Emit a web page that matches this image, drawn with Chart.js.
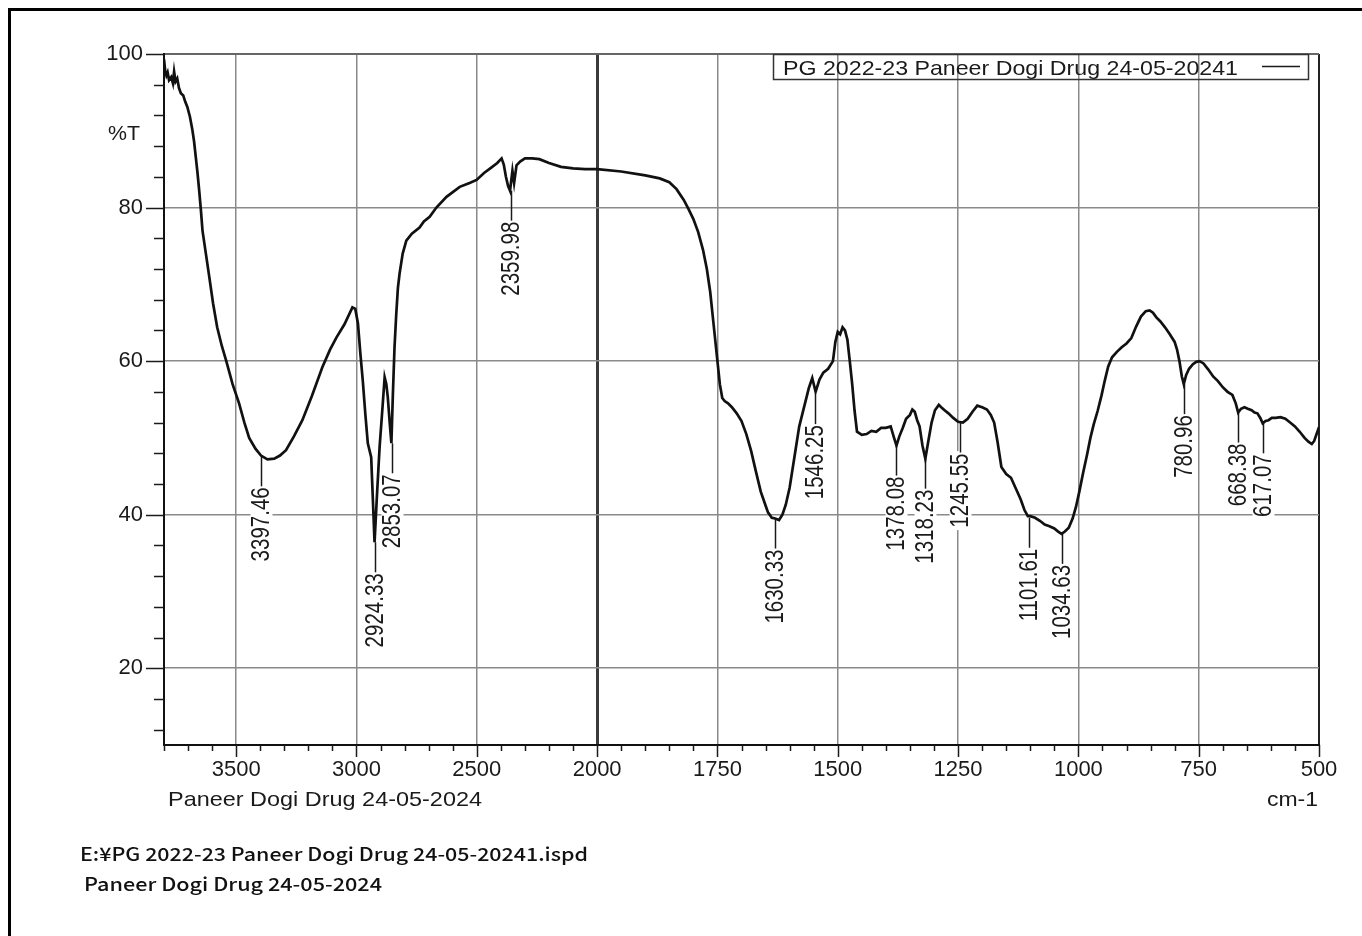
<!DOCTYPE html>
<html lang="en">
<head>
<meta charset="UTF-8">
<title>IR spectrum - Paneer Dogi Drug 24-05-2024</title>
<script src="https://cdn.jsdelivr.net/npm/chart.js"></script>
<style>
  body { margin: 0; background: #fff; }
  canvas { display: block; }
</style>
</head>
<body>
<canvas id="irChart" width="1362" height="936"></canvas>
<script>
// spectrum: wavenumber (cm-1) and %T
const wavenumbers = [
  3800, 3795, 3790, 3785, 3779, 3770, 3763, 3758, 3752, 3745, 3738, 3730, 3720, 3712, 3703, 3692,
  3682, 3675, 3668, 3661, 3654, 3647, 3640, 3626, 3612, 3596, 3579, 3560, 3542, 3515, 3488, 3466,
  3446, 3420, 3397, 3370, 3342, 3318, 3293, 3260, 3225, 3185, 3142, 3110, 3083, 3050, 3017, 3005,
  2994, 2984, 2974, 2963, 2953, 2939, 2932, 2925, 2915, 2904, 2893, 2883, 2876, 2870, 2862, 2855,
  2849, 2842, 2835, 2828, 2821, 2808, 2793, 2770, 2738, 2720, 2696, 2668, 2626, 2571, 2530, 2501,
  2470, 2440, 2415, 2397, 2388, 2379, 2370, 2362, 2352, 2345, 2335, 2320, 2300, 2270, 2240, 2200,
  2150, 2100, 2050, 2000, 1950, 1900, 1870, 1850, 1835, 1820, 1810, 1800, 1790, 1780, 1772, 1765,
  1760, 1755, 1750, 1745, 1740, 1735, 1728, 1720, 1710, 1700, 1690, 1680, 1670, 1660, 1650, 1645,
  1637, 1630, 1622, 1615, 1608, 1600, 1590, 1580, 1570, 1560, 1553, 1546, 1538, 1530, 1520, 1510,
  1505, 1500, 1495, 1490, 1485, 1480, 1475, 1470, 1465, 1460, 1450, 1440, 1430, 1420, 1410, 1400,
  1390, 1383, 1378, 1372, 1365, 1358, 1350, 1345, 1340, 1335, 1330, 1324, 1318, 1312, 1305, 1298,
  1290, 1285, 1278, 1270, 1260, 1250, 1240, 1230, 1220, 1210, 1200, 1190, 1182, 1175, 1168, 1160,
  1150, 1140, 1130, 1120, 1112, 1105, 1100, 1090, 1080, 1070, 1060, 1050, 1042, 1035, 1028, 1020,
  1012, 1005, 998, 990, 982, 975, 968, 960, 952, 945, 938, 930, 920, 910, 900, 890,
  880, 870, 860, 852, 845, 838, 830, 820, 810, 800, 795, 790, 785, 781, 776, 770,
  762, 755, 748, 740, 730, 720, 710, 700, 690, 680, 673, 668, 662, 655, 648, 640,
  634, 628, 622, 617, 611, 605, 598, 590, 580, 570, 560, 550, 540, 530, 522, 515,
  510, 505, 500
];
const transmittance = [
  99.3, 97.8, 97.2, 97.6, 96.6, 97.0, 96.2, 97.7, 96.4, 96.8, 95.6, 94.9, 94.6, 93.8, 93.1, 91.8,
  90.1, 88.6, 86.6, 84.6, 82.3, 79.8, 77.0, 74.0, 71.0, 67.5, 64.4, 62.0, 60.1, 57.0, 54.5, 52.0,
  50.0, 48.6, 47.7, 47.2, 47.3, 47.7, 48.4, 50.2, 52.3, 55.5, 59.2, 61.5, 63.1, 64.8, 67.0, 66.8,
  64.9, 61.0, 57.5, 53.0, 49.3, 47.5, 42.0, 36.4, 42.5, 48.8, 53.5, 57.9, 57.0, 55.3, 52.0, 49.3,
  55.5, 61.8, 66.0, 69.5, 71.4, 74.0, 75.7, 76.6, 77.4, 78.2, 78.8, 80.0, 81.4, 82.7, 83.2, 83.6,
  84.5, 85.2, 85.8, 86.4, 85.6, 84.0, 82.8, 82.2, 84.8, 83.2, 85.5, 86.0, 86.4, 86.4, 86.3, 85.8,
  85.3, 85.1, 85.0, 85.0, 84.7, 84.2, 83.8, 83.3, 82.4, 81.0, 79.8, 78.5, 76.8, 74.5, 72.0, 69.0,
  66.0, 63.0, 60.0, 57.0, 55.2, 54.8, 54.5, 54.0, 53.2, 52.2, 50.5, 48.3, 45.6, 43.0, 41.2, 40.3,
  39.6, 39.5, 39.3, 40.0, 41.3, 43.5, 47.5, 51.5, 54.0, 56.5, 57.8, 56.0, 57.6, 58.5, 59.0, 60.0,
  62.5, 63.8, 63.5, 64.4, 64.0, 62.8, 60.0, 57.0, 53.5, 50.8, 50.4, 50.5, 50.9, 50.8, 51.3, 51.3,
  51.5, 50.0, 49.0, 50.2, 51.3, 52.5, 53.0, 53.7, 53.4, 52.3, 51.5, 49.0, 47.3, 49.5, 52.0, 53.6,
  54.3, 54.0, 53.6, 53.2, 52.6, 52.1, 52.0, 52.5, 53.4, 54.2, 54.0, 53.7, 53.0, 52.0, 49.5, 46.2,
  45.3, 44.8, 43.4, 42.0, 40.6, 39.8, 39.8, 39.6, 39.2, 38.7, 38.5, 38.2, 37.8, 37.5, 37.8, 38.3,
  39.5, 41.0, 43.0, 45.5, 47.8, 50.0, 51.8, 53.5, 55.5, 57.5, 59.3, 60.5, 61.2, 61.8, 62.3, 63.0,
  64.5, 65.8, 66.5, 66.6, 66.3, 65.7, 65.2, 64.4, 63.5, 62.5, 61.5, 60.0, 58.0, 57.0, 58.2, 59.0,
  59.6, 59.9, 60.0, 59.7, 58.9, 58.0, 57.4, 56.6, 56.0, 55.6, 54.5, 53.3, 53.8, 54.0, 53.8, 53.6,
  53.3, 53.2, 52.6, 51.9, 52.2, 52.3, 52.6, 52.6, 52.7, 52.5, 52.0, 51.5, 50.8, 50.0, 49.5, 49.2,
  49.6, 50.5, 51.4
];

// peak picks printed under the trace
const peakLabels = ['3397.46', '2924.33', '2853.07', '2359.98', '1630.33', '1546.25', '1378.08',
  '1318.23', '1245.55', '1101.61', '1034.63', '780.96', '668.38', '617.07'];
const peakWavenumbers = [3397.46, 2924.33, 2853.07, 2359.98, 1630.33, 1546.25, 1378.08,
  1318.23, 1245.55, 1101.61, 1034.63, 780.96, 668.38, 617.07];
const peakTransmittance = [47.6, 36.4, 49.3, 82.2, 39.5, 55.7, 49.0, 47.3, 52.0, 39.6, 37.5, 57.0, 53.3, 51.9];

const xTickLabels = [500, 750, 1000, 1250, 1500, 1750, 2000, 2500, 3000, 3500];
const yTickLabels = [20, 40, 60, 80, 100];

// the printout halves the scale above 2000 cm-1, so the x axis runs on a folded coordinate
function toAxis(w) { return w <= 2000 ? w : 2000 + (w - 2000) / 2; }
function fromAxis(p) { return p <= 2000 ? p : 2000 + (p - 2000) * 2; }

const FONT = '"Liberation Sans", Arial, sans-serif';

// draw text squeezed/stretched to a given width (the scan is not square)
function fitText(ctx, text, x, y, font, width, align) {
  ctx.save();
  ctx.font = font;
  const sx = width / ctx.measureText(text).width;
  ctx.translate(x, y);
  ctx.scale(sx, 1);
  ctx.textAlign = align || 'left';
  ctx.textBaseline = 'alphabetic';
  ctx.fillText(text, 0, 0);
  ctx.restore();
}

function line(ctx, x1, y1, x2, y2) {
  ctx.beginPath();
  ctx.moveTo(x1, y1);
  ctx.lineTo(x2, y2);
  ctx.stroke();
}

const decor = {
  id: 'decor',
  beforeDatasetsDraw(chart) {
    // peak labels, white boxes knock out the grid
    const ctx = chart.ctx, xs = chart.scales.x, ys = chart.scales.y;
    ctx.save();
    ctx.font = '25px ' + FONT;
    peakWavenumbers.forEach((w, i) => {
      const px = Math.round(xs.getPixelForValue(toAxis(w))) + 0.5;
      const py = ys.getPixelForValue(peakTransmittance[i]);
      const end = py + 30;
      ctx.save();
      ctx.translate(px, end + 1);
      ctx.rotate(-Math.PI / 2);
      ctx.scale(0.82, 1);
      const tw = ctx.measureText(peakLabels[i]).width;
      ctx.fillStyle = '#fff';
      ctx.fillRect(-tw - 3, -11, tw + 6, 22);
      ctx.fillStyle = '#1a1a1a';
      ctx.textAlign = 'right';
      ctx.textBaseline = 'middle';
      ctx.fillText(peakLabels[i], 0, 1);
      ctx.restore();
      ctx.strokeStyle = '#1a1a1a';
      ctx.lineWidth = 1.5;
      line(ctx, px, py, px, end);
    });
    ctx.restore();
  },
  afterDraw(chart) {
    const ctx = chart.ctx, xs = chart.scales.x, ys = chart.scales.y, a = chart.chartArea;
    ctx.save();
    ctx.strokeStyle = '#1a1a1a';
    ctx.lineWidth = 1.5;
    // y ticks every 4 %T
    for (let v = 12; v <= 100; v += 4) {
      const py = Math.round(ys.getPixelForValue(v)) + 0.5;
      line(ctx, a.left - (v % 20 === 0 ? 18 : 10), py, a.left, py);
    }
    // x ticks every 50 on the folded axis
    for (let p = 500; p <= 2900; p += 50) {
      const px = Math.round(xs.getPixelForValue(p)) + 0.5;
      const major = p % 250 === 0 && p <= 2750;
      line(ctx, px, a.bottom, px, a.bottom + (major ? 12 : 6));
    }

    ctx.fillStyle = '#1a1a1a';
    fitText(ctx, '%T', 108, 140, '21px ' + FONT, 32);
    fitText(ctx, 'Paneer Dogi Drug 24-05-2024', 168, 806, '21px ' + FONT, 314);
    fitText(ctx, 'cm-1', 1318, 806, '21px ' + FONT, 51, 'right');

    // legend box
    ctx.strokeStyle = '#333';
    ctx.lineWidth = 1.5;
    ctx.strokeRect(773.5, 54.5, 535, 25);
    fitText(ctx, 'PG 2022-23 Paneer Dogi Drug 24-05-20241', 783, 75, '21px ' + FONT, 455);
    ctx.strokeStyle = '#1a1a1a';
    line(ctx, 1262, 66.5, 1300, 66.5);

    // file info under the chart
    ctx.fillStyle = '#111';
    fitText(ctx, 'E:\u00a5PG 2022-23 Paneer Dogi Drug 24-05-20241.ispd', 80, 861, '500 18px "Noto Sans CJK JP", sans-serif', 508);
    fitText(ctx, 'Paneer Dogi Drug 24-05-2024', 84, 891, '500 18px "Noto Sans CJK JP", sans-serif', 298);

    // page frame
    ctx.strokeStyle = '#000';
    ctx.lineWidth = 3;
    line(ctx, 8, 9.5, 1362, 9.5);
    line(ctx, 9.5, 8, 9.5, 936);
    ctx.restore();
  }
};

new Chart(document.getElementById('irChart'), {
  type: 'line',
  data: {
    datasets: [{
      data: wavenumbers.map((w, i) => ({ x: toAxis(w), y: transmittance[i] })),
      borderColor: '#111',
      borderWidth: 2.7,
      pointRadius: 0,
      tension: 0,
      fill: false
    }]
  },
  options: {
    responsive: false,
    animation: false,
    devicePixelRatio: 1,
    layout: { padding: { left: 0, top: 54, right: 43, bottom: 0 } },
    plugins: { legend: { display: false }, tooltip: { enabled: false } },
    scales: {
      x: {
        type: 'linear',
        reverse: true,
        min: 500,
        max: 2900,
        afterBuildTicks: s => { s.ticks = xTickLabels.map(w => ({ value: toAxis(w) })); },
        afterFit: s => { s.height = 191; },
        ticks: {
          callback: v => String(fromAxis(v)),
          font: { family: FONT, size: 22 },
          color: '#1a1a1a',
          padding: 12,
          maxRotation: 0,
          autoSkip: false
        },
        grid: {
          drawTicks: false,
          color: c => c.tick.value === 2000 ? '#3a3a3a' : (c.tick.value === 500 ? '#222' : '#8a8a8a'),
          lineWidth: c => c.tick.value === 2000 ? 3 : (c.tick.value === 500 ? 2 : 1.5)
        },
        border: { color: '#111', width: 2 }
      },
      y: {
        min: 10,
        max: 100,
        afterBuildTicks: s => { s.ticks = yTickLabels.map(v => ({ value: v })); },
        afterFit: s => { s.width = 164; },
        ticks: {
          font: { family: FONT, size: 22 },
          color: '#1a1a1a',
          padding: 21
        },
        grid: {
          drawTicks: false,
          color: c => c.tick.value === 100 ? '#666' : '#8a8a8a',
          lineWidth: c => c.tick.value === 100 ? 2 : 1.5
        },
        border: { color: '#111', width: 2 }
      }
    }
  },
  plugins: [decor]
});
</script>
</body>
</html>
